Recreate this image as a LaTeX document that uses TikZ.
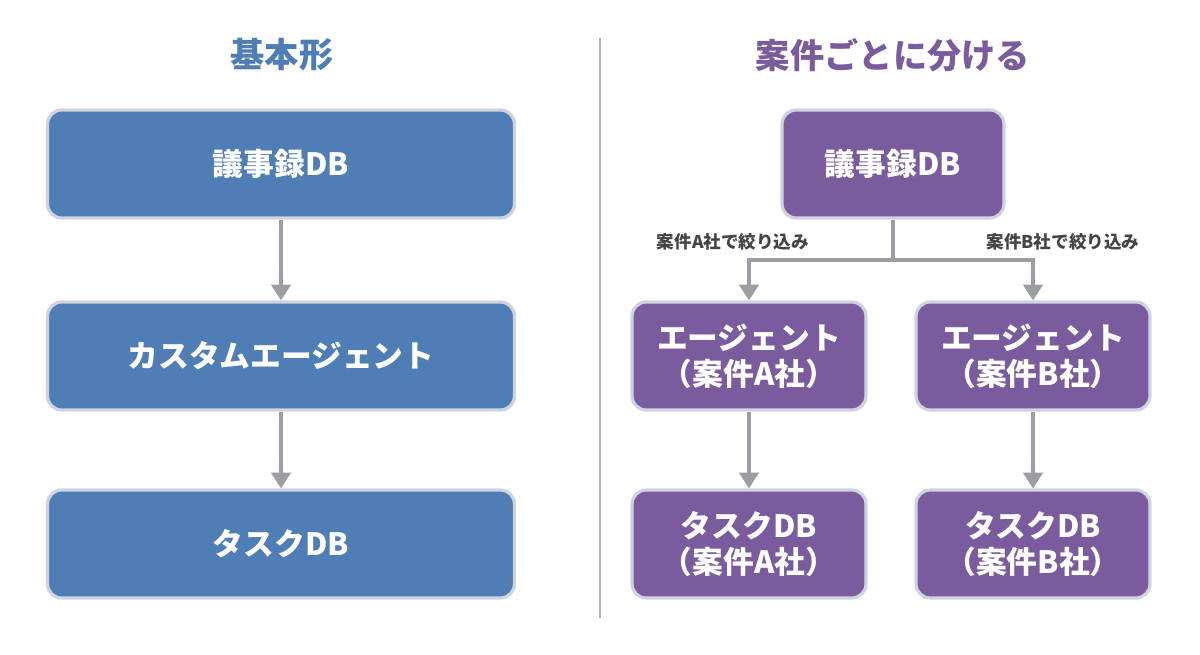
\documentclass[tikz,border=0pt]{standalone}
\usepackage{fontspec}
\setmainfont{Noto Sans CJK JP}
\usetikzlibrary{positioning,arrows.meta}
\definecolor{plainblue}{HTML}{4F7DB5}
\definecolor{splitpurple}{HTML}{7A5C9E}
\definecolor{rimgray}{HTML}{CDD3DF}
\definecolor{arrowgray}{HTML}{9C9EA3}
\definecolor{notegray}{HTML}{444444}

\begin{document}
\begin{tikzpicture}
    [x=0.02cm, y=-0.02cm,
    % boxes
    box/.style={rounded corners=8pt, draw=rimgray, line width=1.8pt,
        text=white, align=center, inner sep=0pt,
        font=\bfseries\fontsize{17.5}{20.5}\selectfont},
    bluebox/.style={box, fill=plainblue, minimum width=9.34cm, minimum height=2.16cm},
    purplebox/.style={box, fill=splitpurple, minimum height=2.16cm},
    heading/.style={font=\bfseries\fontsize{19.5}{23}\selectfont},
    note/.style={text=notegray, font=\bfseries\fontsize{10}{12}\selectfont},
    flow/.style={draw=arrowgray, line width=2.2pt,
        -{Triangle[width=11pt, length=9pt]}},
    divider/.style={draw=arrowgray!80, line width=1.5pt}]
    \useasboundingbox (0,0) rectangle (1200,655);

    % left side
    \node [heading, text=plainblue] (plaintitle) at (282,55) {基本形};
    \node [bluebox] (minutes1) at (281,164) {議事録DB};
    \node [bluebox] (agent1) at (281,356) {カスタムエージェント};
    \node [bluebox] (tasks1) at (281,544) {タスクDB};
    \draw [flow] (minutes1) -- (agent1);
    \draw [flow] (agent1) -- (tasks1);

    % divider
    \coordinate (divtop) at (600,38);
    \coordinate (divbottom) at (600,618);
    \draw [divider] (divtop) -- (divbottom);

    % right side
    \node [heading, text=splitpurple] (splittitle) at (893,55) {案件ごとに分ける};
    \node [purplebox, minimum width=4.44cm] (minutes2) at (893,164) {議事録DB};
    \node [purplebox, minimum width=4.68cm] (agentA) at (749,356) {エージェント\\（案件A社）};
    \node [purplebox, minimum width=4.68cm] (agentB) at (1033,356) {エージェント\\（案件B社）};
    \node [purplebox, minimum width=4.68cm] (tasksA) at (749,544) {タスクDB\\（案件A社）};
    \node [purplebox, minimum width=4.68cm] (tasksB) at (1033,544) {タスクDB\\（案件B社）};
    \draw [flow] (minutes2.south) -- ++(0,40) -| (agentA);
    \draw [flow] (minutes2.south) -- ++(0,40) -| (agentB);
    \draw [flow] (agentA) -- (tasksA);
    \draw [flow] (agentB) -- (tasksB);
    \node [note] (noteA) at (733,242) {案件A社で絞り込み};
    \node [note] (noteB) at (1063,242) {案件B社で絞り込み};
\end{tikzpicture}
\end{document}
